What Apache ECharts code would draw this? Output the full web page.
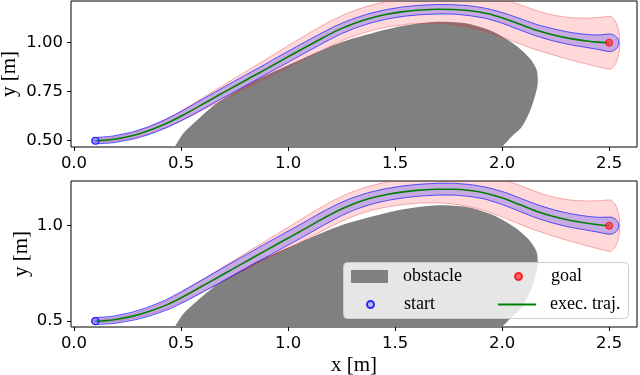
<!DOCTYPE html>
<html>
<head>
<meta charset="utf-8">
<script src="https://cdn.jsdelivr.net/npm/echarts@6/dist/echarts.min.js"></script>
<style>
  html, body { margin: 0; padding: 0; background: #fff; }
  #container { width: 640px; height: 375px; }
</style>
</head>
<body>
<div id="container"></div>
<script>
// tick values
const xTicks = [0, 0.5, 1.0, 1.5, 2.0, 2.5];
const yTicksTop = [0.5, 0.75, 1.0];
const yTicksBottom = [0.5, 1.0];

const startPoint = [0.1, 0.5];
const goalPoint = [2.5, 1.0];

// obstacle outline (first/last points sit below the axis, clipped)
const obstacleX = [0.43, 0.47, 0.511, 0.589, 0.667, 0.822, 1.0, 1.243, 1.508, 1.68, 1.835, 1.96, 2.06, 2.13, 2.162, 2.165, 2.135, 2.092, 2.045, 2.0, 1.95, 1.85, 1.2];
const obstacleY = [0.40, 0.468, 0.538, 0.619, 0.691, 0.793, 0.885, 1.0, 1.08, 1.106, 1.098, 1.055, 0.99, 0.92, 0.86, 0.78, 0.665, 0.571, 0.521, 0.468, 0.41, 0.34, 0.22];

// executed trajectory
const trajX = [0.10, 0.18, 0.276, 0.35, 0.433, 0.51, 0.589, 0.667, 0.745, 0.823, 0.901, 0.978, 1.056, 1.15, 1.23, 1.305, 1.38, 1.461, 1.54, 1.617, 1.70, 1.773, 1.85, 1.928, 2.006, 2.084, 2.16, 2.24, 2.32, 2.396, 2.45, 2.50];
const trajTopY = [0.500, 0.5065, 0.527, 0.552, 0.589, 0.631, 0.679, 0.727, 0.774, 0.821, 0.868, 0.915, 0.962, 1.018, 1.063, 1.097, 1.124, 1.145, 1.159, 1.167, 1.171, 1.170, 1.163, 1.149, 1.125, 1.094, 1.064, 1.040, 1.021, 1.009, 1.003, 1.000];
const trajBottomY = [0.500, 0.506, 0.526, 0.550, 0.585, 0.628, 0.677, 0.726, 0.775, 0.824, 0.873, 0.921, 0.969, 1.029, 1.077, 1.114, 1.142, 1.163, 1.177, 1.186, 1.191, 1.191, 1.184, 1.169, 1.143, 1.109, 1.076, 1.048, 1.027, 1.013, 1.005, 1.000];

// uncertainty radii along the trajectory (x and y half-widths)
const redRx = [0.008, 0.010, 0.012, 0.015, 0.018, 0.022, 0.026, 0.030, 0.034, 0.038, 0.042, 0.046, 0.050, 0.054, 0.057, 0.060, 0.062, 0.064, 0.066, 0.068, 0.072, 0.077, 0.080, 0.083, 0.085, 0.080, 0.075, 0.070, 0.065, 0.060, 0.055, 0.050];
const redRy = [0.008, 0.010, 0.012, 0.015, 0.018, 0.022, 0.026, 0.030, 0.034, 0.038, 0.042, 0.046, 0.050, 0.054, 0.057, 0.060, 0.062, 0.064, 0.066, 0.068, 0.072, 0.077, 0.083, 0.089, 0.093, 0.095, 0.097, 0.100, 0.107, 0.117, 0.126, 0.135];
const blueTopR = [0.016, 0.017, 0.018, 0.019, 0.020, 0.021, 0.022, 0.022, 0.023, 0.023, 0.023, 0.024, 0.024, 0.024, 0.024, 0.024, 0.024, 0.024, 0.024, 0.024, 0.024, 0.024, 0.025, 0.025, 0.026, 0.027, 0.028, 0.030, 0.031, 0.033, 0.037, 0.045];
const blueBottomR = [0.018, 0.019, 0.021, 0.023, 0.025, 0.027, 0.028, 0.029, 0.030, 0.030, 0.031, 0.031, 0.031, 0.031, 0.031, 0.031, 0.031, 0.031, 0.031, 0.031, 0.031, 0.031, 0.031, 0.031, 0.032, 0.032, 0.033, 0.034, 0.035, 0.036, 0.039, 0.045];

const TICK_FONT = 'DejaVu Sans';
const SERIF = '"Liberation Serif", "Times New Roman", serif';

let dom = document.getElementById('container');
let myChart = echarts.init(dom, null, { renderer: 'canvas' });

function clipTo(params, children) {
    const cs = params.coordSys;
    return {
        type: 'group',
        children: children,
        clipPath: { type: 'rect', shape: { x: cs.x, y: cs.y, width: cs.width, height: cs.height } }
    };
}

// band of ellipses swept along the trajectory
function tubeRenderer(ys, rx, ry, fill, stroke) {
    return function (params, api) {
        const sx = api.size([1, 0])[0];
        const sy = api.size([0, 1])[1];
        const pts = trajX.map((x, i) => api.coord([x, ys[i]]));
        const n = pts.length;
        function support(i, ux, uy) {
            const a = rx[i] * sx, b = ry[i] * sy;
            const h = Math.sqrt(a * a * ux * ux + b * b * uy * uy) || 1;
            return [pts[i][0] + a * a * ux / h, pts[i][1] + b * b * uy / h];
        }
        function tangent(i) {
            const p0 = pts[Math.max(i - 1, 0)], p1 = pts[Math.min(i + 1, n - 1)];
            const dx = p1[0] - p0[0], dy = p1[1] - p0[1];
            const l = Math.hypot(dx, dy) || 1;
            return [dx / l, dy / l];
        }
        const upper = [], lower = [];
        for (let i = 0; i < n; i++) {
            const t = tangent(i);
            upper.push(support(i, t[1], -t[0]));
            lower.push(support(i, -t[1], t[0]));
        }
        const poly = upper.slice();
        const te = tangent(n - 1);
        for (let k = 1; k < 16; k++) {
            const a = Math.PI * k / 16;
            poly.push(support(n - 1, te[1] * Math.cos(a) + te[0] * Math.sin(a), -te[0] * Math.cos(a) + te[1] * Math.sin(a)));
        }
        for (let i = n - 1; i >= 0; i--) poly.push(lower[i]);
        const ts = tangent(0);
        for (let k = 1; k < 16; k++) {
            const a = Math.PI * k / 16;
            poly.push(support(0, -ts[1] * Math.cos(a) - ts[0] * Math.sin(a), ts[0] * Math.cos(a) - ts[1] * Math.sin(a)));
        }
        return clipTo(params, [{
            type: 'polygon',
            shape: { points: poly, smooth: 0.15 },
            style: { fill: fill, stroke: stroke, lineWidth: 1 }
        }]);
    };
}

function obstacleRenderer(params, api) {
    const pts = obstacleX.map((x, i) => api.coord([x, obstacleY[i]]));
    return clipTo(params, [{
        type: 'polygon',
        shape: { points: pts, smooth: 0.25 },
        style: { fill: '#808080' }
    }]);
}

function panelSeries(idx, ys, blueR) {
    return [{
        name: 'obstacle',
        type: 'custom',
        xAxisIndex: idx,
        yAxisIndex: idx,
        renderItem: obstacleRenderer,
        data: [[obstacleX[0], obstacleY[0]]],
        itemStyle: { color: '#808080' },
        silent: true,
        z: 1
    }, {
        name: 'red tube',
        type: 'custom',
        xAxisIndex: idx,
        yAxisIndex: idx,
        renderItem: tubeRenderer(ys, redRx, redRy, 'rgba(255, 0, 0, 0.15)', 'rgba(230, 60, 60, 0.4)'),
        data: [[trajX[0], ys[0]]],
        silent: true,
        z: 2
    }, {
        name: 'blue tube',
        type: 'custom',
        xAxisIndex: idx,
        yAxisIndex: idx,
        renderItem: tubeRenderer(ys, blueR, blueR, 'rgba(70, 60, 255, 0.3)', 'rgba(30, 30, 255, 0.75)'),
        data: [[trajX[0], ys[0]]],
        silent: true,
        z: 3
    }, {
        name: 'exec. traj.',
        type: 'line',
        xAxisIndex: idx,
        yAxisIndex: idx,
        data: trajX.map((x, i) => [x, ys[i]]),
        smooth: 0.3,
        symbol: 'none',
        lineStyle: { color: '#008000', width: 1.6 },
        itemStyle: { color: '#008000' },
        z: 4
    }, {
        name: 'start',
        type: 'scatter',
        xAxisIndex: idx,
        yAxisIndex: idx,
        data: [startPoint],
        symbolSize: 7,
        itemStyle: { color: 'rgba(110, 110, 255, 0.45)', borderColor: '#0000ff', borderWidth: 1.2 },
        z: 5
    }, {
        name: 'goal',
        type: 'scatter',
        xAxisIndex: idx,
        yAxisIndex: idx,
        data: [goalPoint],
        symbolSize: 7,
        itemStyle: { color: 'rgba(255, 50, 50, 0.85)', borderColor: '#ff0000', borderWidth: 1 },
        z: 5
    }];
}

function xAxisFor(idx, name) {
    return {
        type: 'value',
        gridIndex: idx,
        min: -0.014,
        max: 2.63,
        name: name,
        nameLocation: 'middle',
        nameGap: 28,
        nameMoveOverlap: false,
        nameTextStyle: { fontFamily: SERIF, fontSize: 21, color: '#000' },
        axisLine: { show: false, onZero: false },
        axisTick: { show: true, inside: false, length: 4, customValues: xTicks, lineStyle: { color: '#000' } },
        axisLabel: {
            customValues: xTicks,
            formatter: v => v.toFixed(1),
            fontFamily: TICK_FONT, fontSize: 16.5, color: '#000', margin: 8
        },
        splitLine: { show: false }
    };
}

function yAxisFor(idx, min, max, ticks, digits, gap) {
    return {
        type: 'value',
        gridIndex: idx,
        min: min,
        max: max,
        name: 'y [m]',
        nameLocation: 'middle',
        nameGap: gap,
        nameMoveOverlap: false,
        nameTextStyle: { fontFamily: SERIF, fontSize: 21, color: '#000' },
        axisLine: { show: false, onZero: false },
        axisTick: { show: true, inside: false, length: 4, customValues: ticks, lineStyle: { color: '#000' } },
        axisLabel: {
            customValues: ticks,
            formatter: v => v.toFixed(digits),
            fontFamily: TICK_FONT, fontSize: 16.5, color: '#000', margin: 8
        },
        splitLine: { show: false }
    };
}

// one legend per entry so each marker gets its own size; gap = space before the label
function legendAt(key, name, left, top, w, h, icon, gap) {
    const rich = {};
    rich[key] = { width: gap };
    return {
        data: [{ name: name, icon: icon }],
        left: left,
        top: top,
        padding: 0,
        itemWidth: w,
        itemHeight: h,
        selectedMode: false,
        formatter: n => '{' + key + '|}' + n,
        textStyle: { fontFamily: SERIF, fontSize: 18, color: '#000', rich: rich },
        z: 10
    };
}

option = {
    backgroundColor: '#fff',
    animation: false,
    grid: [
        { left: 71, top: 1, width: 566, height: 146, outerBoundsMode: 'none', containLabel: false, show: true, borderColor: '#000', borderWidth: 1, backgroundColor: 'transparent' },
        { left: 71, top: 181, width: 566, height: 146, outerBoundsMode: 'none', containLabel: false, show: true, borderColor: '#000', borderWidth: 1, backgroundColor: 'transparent' }
    ],
    xAxis: [xAxisFor(0, ''), xAxisFor(1, 'x [m]')],
    yAxis: [
        yAxisFor(0, 0.468, 1.213, yTicksTop, 2, 51),
        yAxisFor(1, 0.469, 1.234, yTicksBottom, 1, 39)
    ],
    legend: [
        legendAt('ga', 'obstacle', 351, 267.5, 37, 13, 'rect', 10),
        legendAt('gb', 'start', 366, 295.5, 7, 7, 'circle', 25),
        legendAt('gc', 'goal', 514, 267.5, 7, 7, 'circle', 24),
        legendAt('gd', 'exec. traj.', 498, 295.5, 38, 2, 'rect', 9)
    ],
    graphic: [{
        type: 'rect',
        left: 343,
        top: 262,
        shape: { width: 285, height: 56, r: 4 },
        style: { fill: 'rgba(255, 255, 255, 0.8)', stroke: '#cccccc', lineWidth: 1 },
        z: 8
    }],
    series: panelSeries(0, trajTopY, blueTopR).concat(panelSeries(1, trajBottomY, blueBottomR))
};

if (option && typeof option === 'object') {
    myChart.setOption(option, true);
}
window.addEventListener('resize', function () {
    myChart.resize();
});
</script>
</body>
</html>
